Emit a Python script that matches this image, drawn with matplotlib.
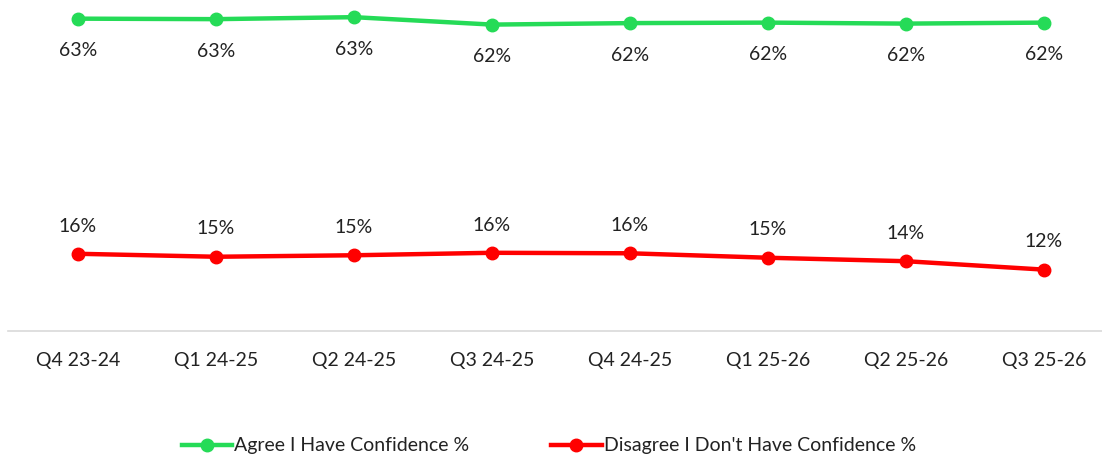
import numpy as np
import matplotlib
matplotlib.use("Agg")
import matplotlib.pyplot as plt

# data
quarters = ["Q4 23-24", "Q1 24-25", "Q2 24-25", "Q3 24-25",
            "Q4 24-25", "Q1 25-26", "Q2 25-26", "Q3 25-26"]
agree = [63.1, 63.0, 63.4, 61.9, 62.2, 62.3, 62.1, 62.3]
disagree = [15.6, 15.0, 15.3, 15.8, 15.7, 14.8, 14.1, 12.4]

green = "#25DB57"
red = "#FF0000"
txt = "#222222"

plt.rcParams['font.family'] = ['Lato', 'DejaVu Sans']

fig = plt.figure(figsize=(11.02, 4.59), dpi=100)
ax = fig.add_axes([8 / 1102, 128 / 459, 1094 / 1102, 331 / 459])

x = np.arange(len(quarters))
ax.plot(x, agree, color=green, lw=3.2, marker="o", ms=9, label="Agree I Have Confidence %")
ax.plot(x, disagree, color=red, lw=3.2, marker="o", ms=9, label="Disagree I Don't Have Confidence %")

# data labels: green below, red above
for i in range(len(x)):
    ax.annotate(f"{round(agree[i])}%", (x[i], agree[i]), xytext=(0, -23),
                textcoords="offset points", ha="center", va="center",
                fontsize=14, color=txt)
    ax.annotate(f"{round(disagree[i])}%", (x[i], disagree[i]), xytext=(0, 20),
                textcoords="offset points", ha="center", va="center",
                fontsize=14, color=txt)

ax.set_xlim(-70 / 138, (1102 - 78) / 138)
ax.set_ylim(0, 331 / 4.95)
ax.set_xticks(x)
ax.set_xticklabels(quarters, fontsize=14, color=txt)
ax.tick_params(axis="x", length=0, pad=15)
ax.set_yticks([])
for s in ["top", "left", "right"]:
    ax.spines[s].set_visible(False)
ax.spines["bottom"].set_color("#d9d9d9")
ax.spines["bottom"].set_linewidth(1.2)

fig.legend(loc="lower center", bbox_to_anchor=(0.498, -0.028), ncol=2, frameon=False,
           fontsize=14, handlelength=2.6, handletextpad=0.1, columnspacing=4.2,
           labelcolor=txt)

fig.savefig("out.png", dpi=100)
